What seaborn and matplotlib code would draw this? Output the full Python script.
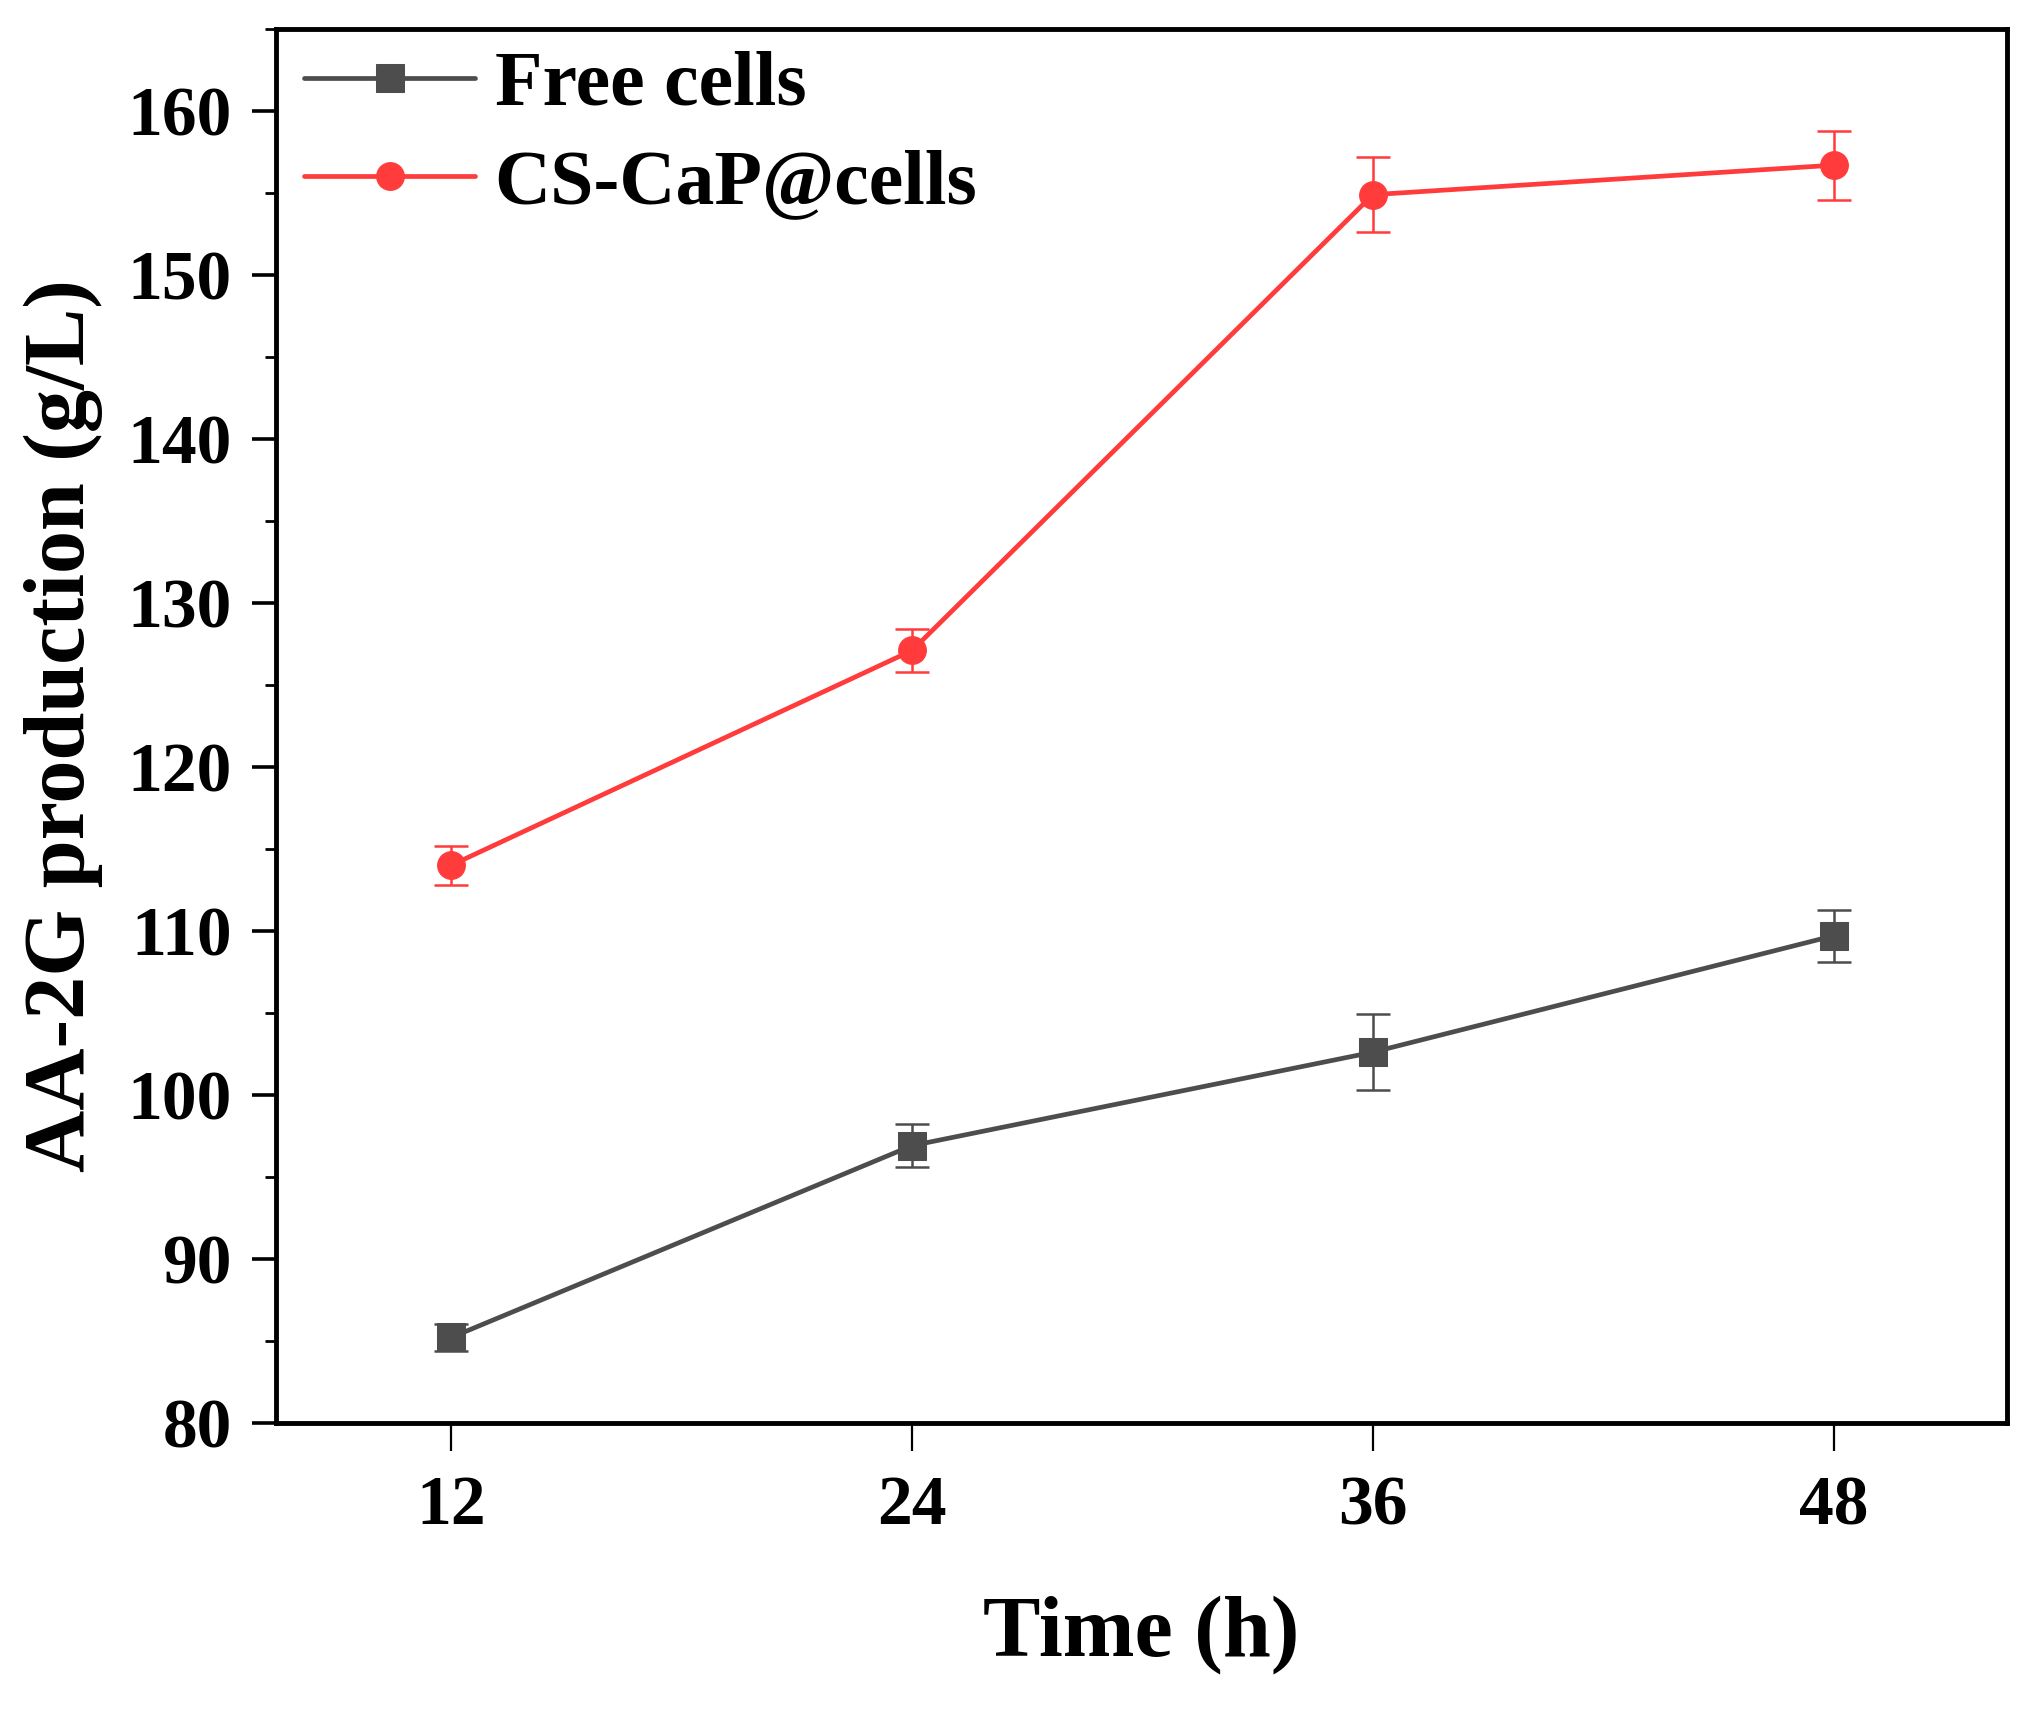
import numpy as np
import pandas as pd
import seaborn as sns
import matplotlib.pyplot as plt
from matplotlib.ticker import MultipleLocator

time_h = [12, 24, 36, 48]
free_cells = [85.2, 96.9, 102.6, 109.7]
free_cells_err = [0.8, 1.3, 2.3, 1.6]
cscap_cells = [114.0, 127.1, 154.9, 156.7]
cscap_cells_err = [1.2, 1.3, 2.3, 2.1]

series_names = ["Free cells", "CS-CaP@cells"]
series_colors = {"Free cells": "#4d4d4d", "CS-CaP@cells": "#ff3b3b"}
series_markers = {"Free cells": "s", "CS-CaP@cells": "o"}

df = pd.DataFrame({
    "Time": time_h * 2,
    "Production": free_cells + cscap_cells,
    "Err": free_cells_err + cscap_cells_err,
    "Series": [series_names[0]] * len(time_h) + [series_names[1]] * len(time_h),
})

sns.set_style("ticks")
plt.rcParams["font.family"] = ["Liberation Serif", "DejaVu Serif"]
plt.rcParams["font.weight"] = "bold"
plt.rcParams["axes.labelweight"] = "bold"
plt.rcParams["text.color"] = "black"
plt.rcParams["axes.labelcolor"] = "black"
plt.rcParams["xtick.color"] = "black"
plt.rcParams["ytick.color"] = "black"

fig, ax = plt.subplots(figsize=(20.33, 17.10), dpi=100)
fig.subplots_adjust(left=0.136, right=0.987, top=0.983, bottom=0.168)

for name in series_names:
    d = df[df["Series"] == name]
    color = series_colors[name]
    ax.errorbar(d["Time"], d["Production"], yerr=d["Err"], fmt="none",
                ecolor=color, elinewidth=1.8, capsize=12, capthick=1.8, zorder=2)
    sns.lineplot(data=d, x="Time", y="Production", ax=ax, color=color,
                 marker=series_markers[name], markersize=20, markeredgecolor=color,
                 linewidth=3.4, label=name, zorder=3)

ax.set_xlim(7.45, 52.5)
ax.set_ylim(80, 165)
ax.set_xticks(time_h)
ax.yaxis.set_major_locator(MultipleLocator(10))
ax.yaxis.set_minor_locator(MultipleLocator(5))

ax.tick_params(axis="y", which="major", direction="out", length=17, width=2.6,
               labelsize=50, pad=15)
ax.tick_params(axis="y", which="minor", direction="out", length=8, width=2.0)
ax.tick_params(axis="x", which="major", direction="out", length=20, width=1.6,
               labelsize=50, pad=18)
for lab in ax.get_xticklabels() + ax.get_yticklabels():
    lab.set_fontweight("bold")

for side in ["left", "right", "bottom", "top"]:
    ax.spines[side].set_linewidth(3.5)
    ax.spines[side].set_color("black")

ax.set_xlabel("Time (h)", fontsize=62, fontweight="bold", labelpad=40)
ax.set_ylabel("AA-2G production (g/L)", fontsize=62, fontweight="bold", labelpad=18)

ax.legend(loc="upper left", frameon=False, fontsize=56, handlelength=2.2,
          handletextpad=0.25, labelspacing=0.35, borderaxespad=0.0,
          bbox_to_anchor=(-0.002, 1.007))

fig.savefig("out.png", dpi=100)
